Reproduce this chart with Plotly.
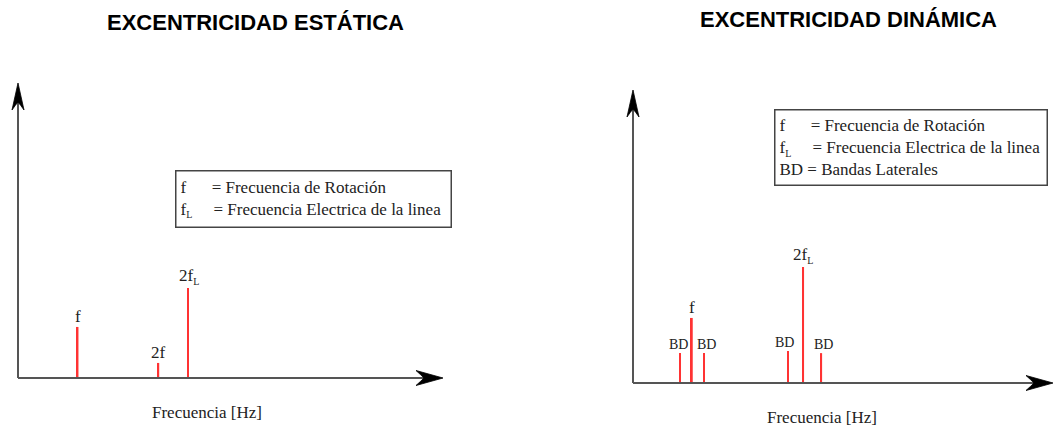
import plotly.graph_objects as go

# Static eccentricity spectrum (arbitrary units, 0-100 scale)
est_freq = [14, 33, 40]
est_amp = [17.3, 5.1, 30.5]
est_labels = ["f", "2f", "2f<sub>L</sub>"]

# Dynamic eccentricity spectrum
din_freq = [11.2, 14.0, 16.9, 36.9, 40.5, 44.8]
din_amp = [10.2, 22.2, 10.2, 10.9, 39.6, 10.2]
din_labels = ["BD", "f", "BD", "BD", "2f<sub>L</sub>", "BD"]
din_label_dx = [-2, 0, 3, -3, 0, 2]

titles = ["EXCENTRICIDAD ESTÁTICA", "EXCENTRICIDAD DINÁMICA"]
x_title = "Frecuencia [Hz]"
legend_est = [
    ("f", 6, "= Frecuencia de Rotación"),
    ("f<sub>L</sub>", 5, "= Frecuencia Electrica de la linea"),
]
legend_din = [
    ("f", 6, "= Frecuencia de Rotación"),
    ("f<sub>L</sub>", 5, "= Frecuencia Electrica de la linea"),
    ("BD", 1, "= Bandas Laterales"),
]

W, H = 1054, 429
RED = "#ff3333"
AXIS = "#555555"
SERIF = "Liberation Serif"
SUB = "<sub><span style='font-size:10px'>L</span></sub>"


def px_x(p):
    return p / W


def px_y(p):
    return 1 - p / H


def fix_sub(s):
    return s.replace("<sub>L</sub>", SUB)


def axis_pair(left, right, bottom, top, pad=12):
    # axis 0..100 maps to the pixel box; extra room so arrowheads are not clipped
    ppx = (right - left) / 100
    ppy = (bottom - top) / 100
    r_extra = min(pad, W - right)
    xa = dict(domain=[px_x(left - pad), px_x(right + r_extra)],
              range=[-pad / ppx, 100 + r_extra / ppx])
    ya = dict(domain=[px_y(bottom + pad), px_y(top - pad)],
              range=[-pad / ppy, 100 + pad / ppy])
    return xa, ya


fig = go.Figure()

fig.add_trace(go.Bar(x=est_freq, y=est_amp, width=0.45, marker=dict(color=RED, line_width=0),
                     xaxis="x", yaxis="y", hoverinfo="skip"))
fig.add_trace(go.Bar(x=din_freq, y=din_amp, width=0.45, marker=dict(color=RED, line_width=0),
                     xaxis="x2", yaxis="y2", hoverinfo="skip"))

annotations = []
shapes = []

# spike labels
for x, h, lab in zip(est_freq, est_amp, est_labels):
    annotations.append(dict(x=x, y=h, xref="x", yref="y", text=fix_sub(lab), showarrow=False,
                            yanchor="bottom", xshift=1 if "sub" in lab else 0, yshift=-1,
                            font=dict(family=SERIF, size=17, color="#222")))
for x, h, lab, dx in zip(din_freq, din_amp, din_labels, din_label_dx):
    size = 14 if lab == "BD" else 17
    annotations.append(dict(x=x, y=h, xref="x2", yref="y2", text=fix_sub(lab), showarrow=False,
                            yanchor="bottom", xshift=dx, yshift=-1,
                            font=dict(family=SERIF, size=size, color="#222")))

# axes with arrowheads
for xr, yr in [("x", "y"), ("x2", "y2")]:
    shapes.append(dict(type="line", xref=xr, yref=yr, x0=0, y0=0, x1=97, y1=0,
                       line=dict(color=AXIS, width=2)))
    shapes.append(dict(type="line", xref=xr, yref=yr, x0=0, y0=0, x1=0, y1=96,
                       line=dict(color=AXIS, width=2)))
    shapes.append(dict(type="path", xref=xr, yref=yr, xsizemode="pixel", ysizemode="pixel",
                       xanchor=100, yanchor=0,
                       path="M0,0 L-27,7.5 Q-22,3 -19,0 Q-22,-3 -27,-7.5 Z",
                       fillcolor="black", line=dict(color="black", width=0.8)))
    shapes.append(dict(type="path", xref=xr, yref=yr, xsizemode="pixel", ysizemode="pixel",
                       xanchor=0, yanchor=100,
                       path="M0,0 L-6,-27 Q-2.5,-22 0,-19 Q2.5,-22 6,-27 Z",
                       fillcolor="black", line=dict(color="black", width=0.8)))

# x axis titles
annotations.append(dict(x=44.5, y=0, xref="x", yref="y", yshift=-34, text=x_title, showarrow=False,
                        font=dict(family=SERIF, size=17, color="#222")))
annotations.append(dict(x=45, y=0, xref="x2", yref="y2", yshift=-34, text=x_title, showarrow=False,
                        font=dict(family=SERIF, size=17, color="#222")))

# panel titles
for text, cx, cy in [(titles[0], 255, 22), (titles[1], 848, 20)]:
    annotations.append(dict(x=px_x(cx), y=px_y(cy), xref="paper", yref="paper", text=text,
                            showarrow=False, xanchor="center", yanchor="middle",
                            font=dict(family="Liberation Sans", size=22, color="black", weight=700)))


def legend_text(rows):
    lines = []
    for sym, pad, desc in rows:
        lines.append(fix_sub(sym) + "&nbsp;" * pad + desc)
    return "<br>".join(lines)


# legend boxes
for rows, (l, t, r, b) in [(legend_est, (175, 170, 452, 228)), (legend_din, (774, 109, 1048, 186))]:
    annotations.append(dict(x=px_x((l + r) / 2), y=px_y((t + b) / 2), xref="paper", yref="paper",
                            text=legend_text(rows), showarrow=False, align="left",
                            xanchor="center", yanchor="middle",
                            width=(r - l) - 11, height=(b - t) - 11, borderpad=4,
                            bordercolor="#444", borderwidth=1.5, bgcolor="white",
                            font=dict(family=SERIF, size=17, color="#222")))

xa1, ya1 = axis_pair(18, 443, 378, 83)
xa2, ya2 = axis_pair(633, 1053, 383, 90)
hidden = dict(visible=False, fixedrange=True)
fig.update_layout(
    width=W, height=H,
    margin=dict(l=0, r=0, t=0, b=0),
    paper_bgcolor="white", plot_bgcolor="white",
    showlegend=False,
    xaxis=dict(anchor="y", **xa1, **hidden),
    yaxis=dict(anchor="x", **ya1, **hidden),
    xaxis2=dict(anchor="y2", **xa2, **hidden),
    yaxis2=dict(anchor="x2", **ya2, **hidden),
    annotations=annotations,
    shapes=shapes,
)

# drop the default 8px body margin so the figure sits at the window origin
fig.write_html("out.html", config={"displayModeBar": False},
               post_script="document.body.style.margin='0';document.body.style.overflow='hidden';")
